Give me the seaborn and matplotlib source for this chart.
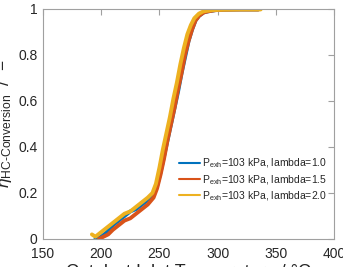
import matplotlib
matplotlib.use("Agg")
import matplotlib.pyplot as plt
import seaborn as sns
import pandas as pd

# ---- data ----
T_lam10 = [195, 200, 205, 210, 215, 220, 225, 230, 235, 240, 245, 248, 251, 254, 257,
           260, 263, 266, 269, 272, 275, 278, 281, 284, 288, 292, 298, 305, 320, 335]
eta_lam10 = [0.0, 0.01, 0.03, 0.06, 0.08, 0.10, 0.12, 0.13, 0.15, 0.17, 0.19, 0.23, 0.29, 0.36, 0.43,
             0.50, 0.57, 0.64, 0.72, 0.79, 0.86, 0.91, 0.95, 0.97, 0.985, 0.99, 0.995, 0.997, 0.998, 0.998]

T_lam15 = [198, 202, 206, 210, 215, 220, 225, 230, 235, 240, 245, 248, 251, 254, 257,
           260, 263, 266, 269, 272, 275, 278, 281, 284, 288, 292, 298, 305, 320, 335]
eta_lam15 = [0.0, 0.01, 0.02, 0.04, 0.06, 0.08, 0.09, 0.11, 0.13, 0.15, 0.18, 0.22, 0.28, 0.35, 0.43,
             0.50, 0.57, 0.65, 0.72, 0.80, 0.86, 0.91, 0.95, 0.97, 0.985, 0.99, 0.995, 0.997, 0.998, 0.998]

T_lam20 = [192, 195, 200, 205, 210, 215, 220, 225, 230, 235, 240, 244, 247, 250, 253,
           256, 259, 262, 265, 268, 271, 274, 277, 280, 284, 288, 295, 305, 320, 337]
eta_lam20 = [0.02, 0.01, 0.03, 0.05, 0.07, 0.09, 0.11, 0.12, 0.14, 0.16, 0.18, 0.20, 0.24, 0.31, 0.39,
             0.46, 0.53, 0.61, 0.68, 0.76, 0.83, 0.89, 0.93, 0.96, 0.98, 0.99, 0.995, 0.997, 0.998, 0.998]

labels = [r"P$_{\rm exh}$=103 kPa, lambda=1.0",
          r"P$_{\rm exh}$=103 kPa, lambda=1.5",
          r"P$_{\rm exh}$=103 kPa, lambda=2.0"]
colors = ["#0072BD", "#D95319", "#EDB120"]

xticks = [150, 200, 250, 300, 350, 400]
yticks = [0, 0.2, 0.4, 0.6, 0.8, 1]
yticklabels = ["0", "0.2", "0.4", "0.6", "0.8", "1"]

df = pd.concat([
    pd.DataFrame({"T": T_lam10, "eta": eta_lam10, "series": labels[0]}),
    pd.DataFrame({"T": T_lam15, "eta": eta_lam15, "series": labels[1]}),
    pd.DataFrame({"T": T_lam20, "eta": eta_lam20, "series": labels[2]}),
], ignore_index=True)

sns.set_style("white")
plt.rcParams["font.family"] = ["Liberation Sans", "DejaVu Sans"]
plt.rcParams["mathtext.fontset"] = "custom"
plt.rcParams["mathtext.rm"] = "Liberation Sans"
plt.rcParams["mathtext.it"] = "Liberation Sans:italic"
plt.rcParams["mathtext.fallback"] = "stix"

fig = plt.figure(figsize=(3.43, 2.67), dpi=100)
ax = fig.add_axes([43 / 343, (267 - 239) / 267, 291 / 343, 230 / 267])

sns.lineplot(data=df, x="T", y="eta", hue="series", palette=colors,
             hue_order=labels, linewidth=2.8, sort=False, ax=ax, legend=True)

ax.set_xlim(150, 400)
ax.set_ylim(0, 1)
ax.set_xticks(xticks)
ax.set_yticks(yticks)
ax.set_yticklabels(yticklabels)
ax.tick_params(direction="in", length=4, width=0.8, top=True, right=True, labelsize=10,
               labelcolor="#262626", color="#a0a0a0")
ax.tick_params(axis="y", pad=4)
ax.tick_params(axis="x", pad=6)
for s in ax.spines.values():
    s.set_color("#a0a0a0")
    s.set_linewidth(0.8)

ax.set_xlabel("Catalyst Inlet Temperature / °C", fontsize=13, color="#262626")
ax.xaxis.set_label_coords(0.5, -0.11)
ax.xaxis.label.set_va("top")
ax.set_ylabel(r"$\eta_{\rm HC\text{-}Conversion}$  /  −", fontsize=12.5, color="#262626")
ax.yaxis.set_label_coords(-0.098, 0.5)

handles, labs = ax.get_legend_handles_labels()
for h in handles:
    h.set_linewidth(1.5)
leg = ax.legend(handles, labs, loc="center left", bbox_to_anchor=(0.467, 0.257),
                frameon=False, fontsize=7.5, handlelength=2.0, handletextpad=0.25,
                labelspacing=0.25, borderaxespad=0, borderpad=0)
for t in leg.get_texts():
    t.set_color("#262626")

fig.savefig("out.png", dpi=100)
